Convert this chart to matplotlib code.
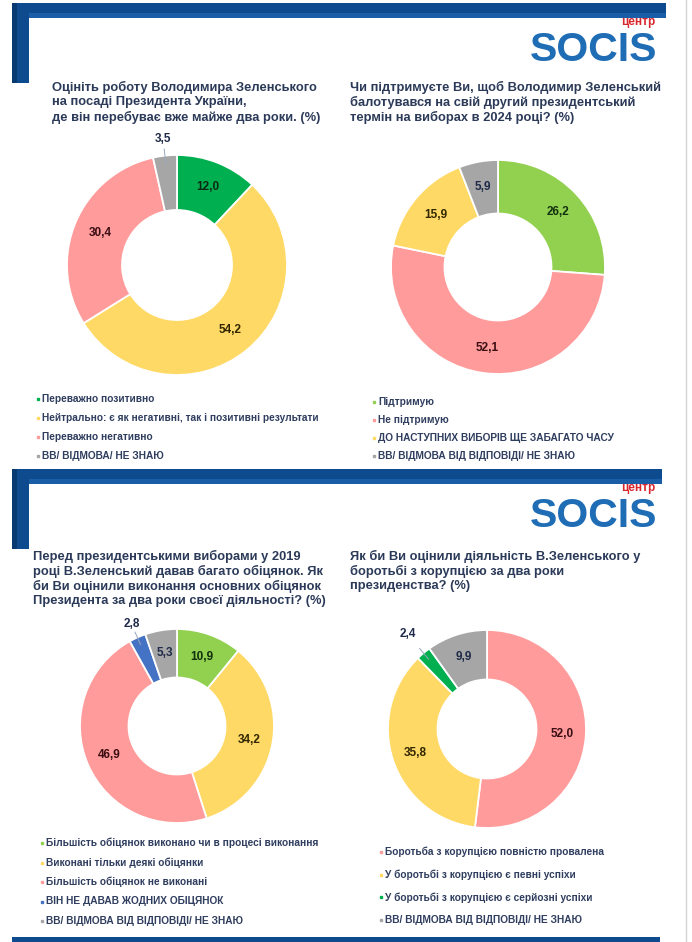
import numpy as np
from matplotlib import pyplot as plt
from matplotlib.patches import Rectangle

W, H = 692, 942

# ---- data ----
q1_title = ["Оцініть роботу Володимира Зеленського",
            "на посаді Президента України,",
            "де він перебуває вже майже два роки. (%)"]
q1_labels = ["Переважно позитивно",
             "Нейтрально: є як негативні, так і позитивні результати",
             "Переважно негативно",
             "ВВ/ ВІДМОВА/ НЕ ЗНАЮ"]
q1_values = [12.0, 54.2, 30.4, 3.5]

q2_title = ["Чи підтримуєте Ви, щоб Володимир Зеленський",
            "балотувався на свій другий президентський",
            "термін на виборах в 2024 році? (%)"]
q2_labels = ["Підтримую",
             "Не підтримую",
             "ДО НАСТУПНИХ ВИБОРІВ ЩЕ ЗАБАГАТО ЧАСУ",
             "ВВ/ ВІДМОВА ВІД ВІДПОВІДІ/ НЕ ЗНАЮ"]
q2_values = [26.2, 52.1, 15.9, 5.9]

q3_title = ["Перед президентськими виборами у 2019",
            "році В.Зеленський давав багато обіцянок. Як",
            "би Ви оцінили виконання основних обіцянок",
            "Президента за два роки своєї діяльності? (%)"]
q3_labels = ["Більшість обіцянок виконано чи в процесі виконання",
             "Виконані тільки деякі обіцянки",
             "Більшість обіцянок не виконані",
             "ВІН НЕ ДАВАВ ЖОДНИХ ОБІЦЯНОК",
             "ВВ/ ВІДМОВА ВІД ВІДПОВІДІ/ НЕ ЗНАЮ"]
q3_values = [10.9, 34.2, 46.9, 2.8, 5.3]

q4_title = ["Як би Ви оцінили діяльність В.Зеленського у",
            "боротьбі з корупцією за два роки",
            "президенства? (%)"]
q4_labels = ["Боротьба з корупцією повністю провалена",
             "У боротьбі з корупцією є певні успіхи",
             "У боротьбі з корупцією є серйозні успіхи",
             "ВВ/ ВІДМОВА ВІД ВІДПОВІДІ/ НЕ ЗНАЮ"]
q4_values = [52.0, 35.8, 2.4, 9.9]

# ---- styles ----
GREEN = '#00b050'
LGREEN = '#92d050'
YELLOW = '#ffd966'
PINK = '#ff9b9b'
GREY = '#a6a6a6'
BLUE = '#4472c4'
q1_colors = [GREEN, YELLOW, PINK, GREY]
q2_colors = [LGREEN, PINK, YELLOW, GREY]
q3_colors = [LGREEN, YELLOW, PINK, BLUE, GREY]
q4_colors = [PINK, YELLOW, GREEN, GREY]
text_dark = {GREEN: '#0e2a12', LGREEN: '#12300e', YELLOW: '#302600',
             PINK: '#3a0d12', GREY: '#1e2a48', BLUE: '#1e2a48'}

NAVY = '#0d4a8e'
TITLE_C = '#2b3a58'
LEG_C = '#2f3d5e'
NARROW = ['Liberation Sans Narrow', 'Liberation Sans', 'DejaVu Sans']
SANS = ['Liberation Sans', 'DejaVu Sans']

fig = plt.figure(figsize=(W / 100, H / 100), dpi=100)
bg = fig.add_axes([0, 0, 1, 1])
bg.set_xlim(0, W)
bg.set_ylim(H, 0)
bg.axis('off')

# right thin border line
bg.plot([686, 686], [0, H], color='#d4d4d4', lw=1)


def frame(y0, x1):
    # top band with short left strip
    bg.add_patch(Rectangle((12, y0), x1 - 12, 15, color=NAVY, lw=0))
    bg.add_patch(Rectangle((12, y0), 17, 80, color=NAVY, lw=0))
    bg.add_patch(Rectangle((12, y0), 5, 80, color='#083a72', lw=0))
    bg.add_patch(Rectangle((29, y0 + 10), x1 - 29, 5, color='#1a5ea8', lw=0))
    # logo
    bg.text(657, y0 + 47, "SOCIS", color='#1f6db5', fontsize=29.5,
            fontweight='bold', family=SANS, ha='right', va='center')
    bg.text(655, y0 + 19, "центр", color='#d9262c', fontsize=8.5,
            fontweight='bold', family=SANS, ha='right', va='center')


def title(x, y, lines):
    for i_, s_ in enumerate(lines):
        bg.text(x, y + i_ * 15, s_, color=TITLE_C, fontsize=9.3,
                fontweight='bold', family=NARROW, va='center')


def legend(x, y, dy, labels, colors):
    for i_, (s_, c_) in enumerate(zip(labels, colors)):
        yy = y + i_ * dy
        bg.plot([x], [yy], 's', color=c_, markersize=2.0)
        bg.text(x + 4, yy, s_, color=LEG_C, fontsize=7.3, fontweight='bold',
                family=NARROW, va='center')


def donut(cx, cy, r, values, colors, outside_r=1.15):
    ax = fig.add_axes([(cx - r) / W, 1 - (cy + r) / H, 2 * r / W, 2 * r / H])
    wedges, _ = ax.pie(values, colors=colors, startangle=90,
                       counterclock=False, radius=1,
                       wedgeprops=dict(width=0.5, edgecolor='white',
                                       linewidth=1.3))
    ax.set_xlim(-1, 1)
    ax.set_ylim(-1, 1)
    ax.axis('off')
    total = sum(values)
    for w_, v_, c_ in zip(wedges, values, colors):
        a_ = np.deg2rad((w_.theta1 + w_.theta2) / 2)
        s_ = f"{v_:.1f}".replace('.', ',')
        if v_ / total < 0.04:
            ax.plot([0.92 * np.cos(a_), 1.06 * np.cos(a_)],
                    [0.92 * np.sin(a_), 1.06 * np.sin(a_)],
                    color='#9aa6bd', lw=0.7, clip_on=False)
            ax.text(outside_r * np.cos(a_), outside_r * np.sin(a_), s_,
                    color='#1e2a48', fontsize=8.5, fontweight='bold',
                    family=SANS, ha='center', va='center')
        else:
            rr = 0.76
            ax.text(rr * np.cos(a_), rr * np.sin(a_), s_, color=text_dark[c_],
                    fontsize=8.5, fontweight='bold', family=SANS,
                    ha='center', va='center')


# ---- panel 1 ----
frame(3, 666)
title(52, 87, q1_title)
title(350, 87, q2_title)
donut(177, 265, 110, q1_values, q1_colors)
donut(498, 267, 107, q2_values, q2_colors)
legend(38, 399, 19, q1_labels, q1_colors)
legend(374, 402, 18, q2_labels, q2_colors)

# ---- panel 2 ----
frame(469, 662)
title(33, 556, q3_title)
title(350, 556, q4_title)
donut(177, 726, 97, q3_values, q3_colors)
donut(487, 729, 99, q4_values, q4_colors, outside_r=1.25)
legend(42, 843, 19.5, q3_labels, q3_colors)
legend(381, 852, 22.7, q4_labels, q4_colors)

# bottom band
bg.add_patch(Rectangle((12, 937), 648, 6, color=NAVY, lw=0))

fig.savefig("out.png", dpi=100)
